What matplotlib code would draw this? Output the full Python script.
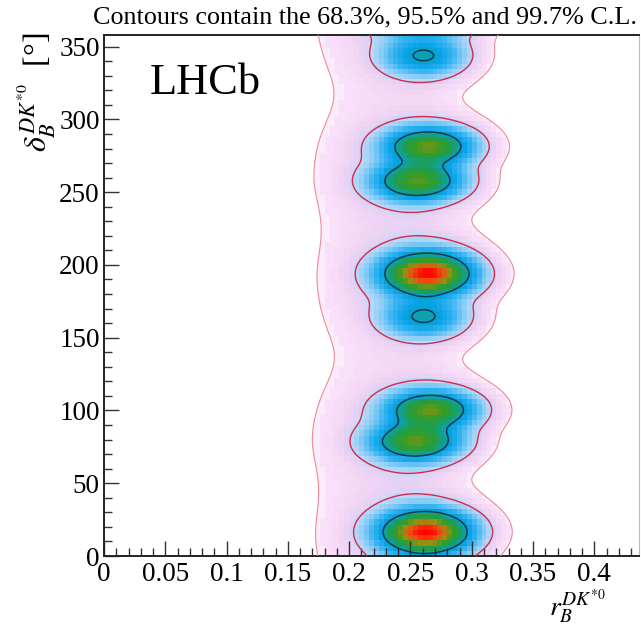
import numpy as np
import matplotlib
matplotlib.use('Agg')
import matplotlib.pyplot as plt
from matplotlib.colors import LinearSegmentedColormap
from matplotlib.ticker import MultipleLocator, FuncFormatter

plt.rcParams['font.family'] = ['Liberation Serif', 'DejaVu Serif']
plt.rcParams['mathtext.fontset'] = 'stix'

# peaks of the likelihood in the (r_B, delta_B) plane
peak_r = [0.2625, 0.264, 0.261, 0.261, 0.267, 0.254, 0.265, 0.256]
peak_d = [16.5, 194.0, 164.0, 343.5, 100.5, 78.5, 281.5, 257.5]
peak_sr = [0.0215, 0.0215, 0.0195, 0.0195, 0.021, 0.021, 0.021, 0.021]
peak_sd = [8.5, 8.5, 8.0, 8.0, 7.6, 7.6, 7.6, 7.6]
peak_h = [1.0, 1.0, 0.31, 0.31, 0.63, 0.61, 0.63, 0.61]
# wider shoulder around each peak and a far tail shifted to low r_B
mid_h, mid_wr, mid_wd = 0.1, 1.15, 1.75
tail_h, tail_dr, tail_sr, tail_wd = 0.026, -0.029, 0.034, 3.5

cl_levels = [0.006, 0.045, 0.3]   # 99.7%, 95.5%, 68.3%
cl_colors = ['#f08a96', '#d42a4a', '#123a55']
cl_widths = [0.8, 1.0, 1.1]

r_lo, r_hi = 0.0, 0.436
d_lo, d_hi = 0.0, 358.0


def density(r, d):
    z = 0*r + 0*d
    for i in range(len(peak_r)):
        dd = (d - peak_d[i] + 180) % 360 - 180
        z = z + peak_h[i]*np.exp(-0.5*((r-peak_r[i])/peak_sr[i])**2 - 0.5*(dd/peak_sd[i])**2)
        z = z + mid_h*peak_h[i]*np.exp(-0.5*((r-peak_r[i])/(mid_wr*peak_sr[i]))**2
                                       - 0.5*(dd/(mid_wd*peak_sd[i]))**2)
        z = z + tail_h*peak_h[i]*np.exp(-0.5*((r-peak_r[i]-tail_dr)/tail_sr)**2
                                        - 0.5*(dd/(tail_wd*peak_sd[i]))**2)
    return z

# fine grid for the contours, coarse bins for the colour map
rf = np.linspace(r_lo, r_hi, 500)
df = np.linspace(d_lo, 360, 600)
RF, DF = np.meshgrid(rf, df)
ZF = density(RF, DF)
zmax = ZF.max()
ZF = ZF/zmax

re = np.arange(r_lo, r_hi+0.004, 0.004)
de = np.arange(d_lo, 361, 3.6)
rc = 0.5*(re[1:]+re[:-1])
dc = 0.5*(de[1:]+de[:-1])
RC, DC = np.meshgrid(rc, dc)
ZC = density(RC, DC)/zmax

cmap = LinearSegmentedColormap.from_list('lhcb', [
    (0.0, '#ffffff'),
    (0.006, '#f9e2f9'),
    (0.02, '#f2d4f3'),
    (0.035, '#e0d2f6'),
    (0.045, '#bcd8f8'),
    (0.08, '#8ccdf6'),
    (0.15, '#3ab4f2'),
    (0.25, '#05a2e8'),
    (0.3, '#0aa0c0'),
    (0.36, '#12a08a'),
    (0.45, '#1e9e4a'),
    (0.58, '#3a9c24'),
    (0.7, '#9a8e12'),
    (0.85, '#f04a10'),
    (1.0, '#ff0000')])

fig = plt.figure(figsize=(6.41, 6.27), dpi=100)
ax = fig.add_axes([104/641, 71/627, (638.5-104)/641, (556-35)/627])

# binned map, cut along the outer (99.7%) contour
outer = ax.contourf(RF, DF, ZF, levels=[cl_levels[0], 2], colors='none')
mesh = ax.pcolormesh(re, de, ZC, cmap=cmap, vmin=0, vmax=1, shading='flat')
mesh.set_clip_path(outer.get_paths()[0], ax.transData)
ax.contour(RF, DF, ZF, levels=cl_levels, colors=cl_colors, linewidths=cl_widths, zorder=3)

ax.set_xlim(r_lo, r_hi)
ax.set_ylim(d_lo, d_hi)

ax.xaxis.set_major_locator(MultipleLocator(0.05))
ax.xaxis.set_minor_locator(MultipleLocator(0.01))
ax.yaxis.set_major_locator(MultipleLocator(50))
ax.yaxis.set_minor_locator(MultipleLocator(10))
ax.xaxis.set_major_formatter(FuncFormatter(lambda v, p: '%g' % round(v, 3)))
ax.yaxis.set_major_formatter(FuncFormatter(lambda v, p: '%g' % v))
ax.tick_params(which='both', direction='in', top=False, right=False, color='#333333', width=1)
ax.tick_params(which='major', length=11, labelsize=19.5, pad=4)
ax.tick_params(which='minor', length=5.5)
ax.tick_params(axis='y', which='major', pad=3)
for s in ['left', 'bottom', 'top']:
    ax.spines[s].set_linewidth(1.4)
    ax.spines[s].set_color('#222222')
ax.spines['right'].set_linewidth(0.8)
ax.spines['right'].set_color('#bbbbbb')

ax.text(0.037, 325, 'LHCb', fontsize=32, va='center', ha='left')

fig.text(0.994, 0.955, 'Contours contain the 68.3%, 95.5% and 99.7% C.L.',
         fontsize=18.8, ha='right', va='bottom')
fig.text(0.058, 0.948, r'$\delta_{B}^{DK^{*0}}$  [°]', rotation=90, fontsize=23,
         ha='center', va='top')
fig.text(0.945, 0.002, r'$r_{B}^{DK^{*0}}$', fontsize=20, ha='right', va='bottom')

fig.savefig('out.png', dpi=100)
